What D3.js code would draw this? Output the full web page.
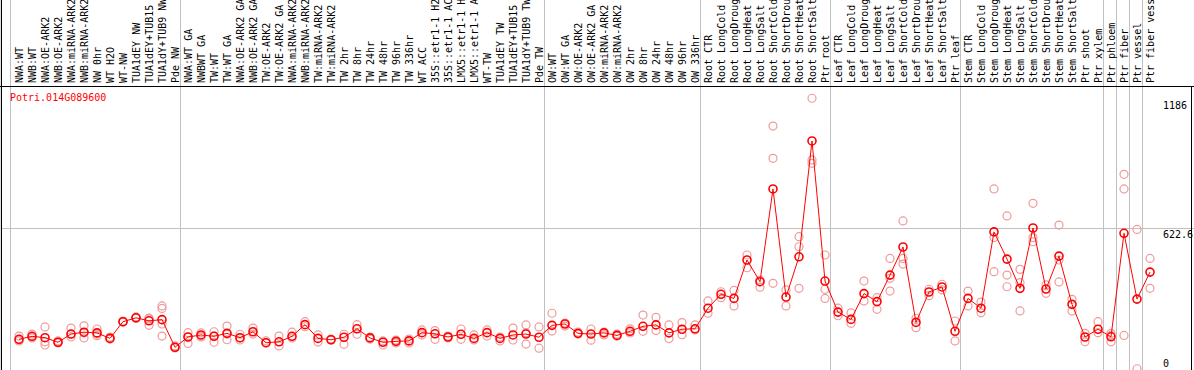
<!DOCTYPE html>
<html>
<head>
<meta charset="utf-8">
<script src="https://cdn.jsdelivr.net/npm/d3@7/dist/d3.min.js"></script>
<style>
  html, body { margin: 0; padding: 0; background: #fff; }
  svg { display: block; font-family: "DejaVu Sans Mono", monospace; font-size: 10px; }
</style>
</head>
<body>
<div id="chart"></div>
<script>
var geneName = "Potri.014G089600";

var categories = [
  "NWA:WT", "NWB:WT", "NWA:OE-ARK2", "NWB:OE-ARK2", "NWA:miRNA-ARK2", "NWB:miRNA-ARK2",
  "NW 0hr", "WT H2O", "WT-NW", "TUA1dEY NW", "TUA1dEY+TUB15", "TUA1dY+TUB9 NW", "Pde NW",
  "NWA:WT GA", "NWBWT GA", "TW:WT", "TW:WT GA", "NWA:OE-ARK2 GA", "NWB:OE-ARK2 GA",
  "TW:OE-ARK2", "TW:OE-ARK2 GA", "NWA:miRNA-ARK2", "NWB:miRNA-ARK2", "TW:miRNA-ARK2",
  "TW:miRNA-ARK2", "TW 2hr", "TW 8hr", "TW 24hr", "TW 48hr", "TW 96hr", "TW 336hr", "WT ACC",
  "35S::etr1-1 H2O", "35S::etr1-1 ACC", "LMX5::etr1-1 H2O", "LMX5::etr1-1 ACC", "WT-TW",
  "TUA1dEY TW", "TUA1dEY+TUB15", "TUA1dY+TUB9 TW", "Pde TW",
  "OW:WT", "OW:WT GA", "OW:OE-ARK2", "OW:OE-ARK2 GA", "OW:miRNA-ARK2", "OW:miRNA-ARK2",
  "OW 2hr", "OW 8hr", "OW 24hr", "OW 48hr", "OW 96hr", "OW 336hr",
  "Root CTR", "Root LongCold", "Root LongDrought", "Root LongHeat", "Root LongSalt",
  "Root ShortCold", "Root ShortDrought", "Root ShortHeat", "Root ShortSalt", "Ptr root",
  "Leaf CTR", "Leaf LongCold", "Leaf LongDrought", "Leaf LongHeat", "Leaf LongSalt",
  "Leaf ShortCold", "Leaf ShortDrought", "Leaf ShortHeat", "Leaf ShortSalt", "Ptr leaf",
  "Stem CTR", "Stem LongCold", "Stem LongDrought", "Stem LongHeat", "Stem LongSalt",
  "Stem ShortCold", "Stem ShortDrought", "Stem ShortHeat", "Stem ShortSalt", "Ptr shoot", "Ptr xylem",
  "Ptr phloem", "Ptr fiber", "Ptr vessel", "Ptr fiber vessel"
];

// index where each sample group begins (last entry = end)
var groupStarts = [0, 13, 41, 53, 63, 73, 84, 85, 86, 87, 88];

var meanValues = [
  130, 143, 137, 117, 153, 161, 158, 134, 207, 224, 211, 216, 95,
  140, 149, 143, 156, 137, 163, 115, 119, 143, 194, 134, 128, 139, 176, 136, 117, 121, 123,
  159, 154, 140, 152, 134, 159, 134, 149, 153, 139,
  191, 197, 156, 153, 158, 147, 165, 187, 193, 158, 174, 176,
  266, 327, 309, 477, 382, 788, 315, 491, 998, 385,
  249, 217, 330, 295, 411, 534, 204, 337, 359, 165,
  309, 266, 600, 481, 353, 617, 350, 494, 283, 140, 174,
  141, 594, 306, 424
];

var replicateValues = [
  [144, 127, 123], [153, 136, 140], [184, 119, 105], [118, 114, 123], [179, 140, 153],
  [189, 136, 158], [175, 146, 153], [136, 131, 140], [206, 210, 206], [223, 228, 223],
  [219, 191, 223], [276, 265, 197, 144], [96, 101, 92],
  [159, 112, 140], [158, 140, 144], [163, 117, 144], [188, 128, 153], [152, 127, 136],
  [179, 153], [114, 123], [144, 101], [161, 136], [207, 185], [149, 118], [131, 127],
  [152, 108], [194, 152], [140, 131], [105, 123], [127, 114], [131, 114], [171, 149],
  [168, 130], [144, 136], [175, 130], [149, 127], [171, 144], [140, 123], [179, 127],
  [193, 109, 159], [184, 91],
  [244, 166], [201, 188], [162, 153], [175, 126], [162, 149], [153, 144], [176, 158],
  [236, 165], [226, 169], [193, 133], [203, 150], [193, 171],
  [298, 244], [338, 312], [344, 276], [499, 443], [358, 389], [1063, 922, 375],
  [346, 276], [579, 535, 353], [1185, 915, 900], [499, 349, 309],
  [266, 233], [246, 200], [385, 298], [312, 261], [484, 397, 341], [648, 484, 459],
  [222, 181], [349, 321], [371, 346], [210, 123],
  [341, 276], [293, 246], [788, 575, 426], [670, 411, 360], [436, 378, 254],
  [725, 557, 575], [331, 368], [630, 477, 381], [305, 254], [156, 119], [207, 159],
  [156, 119, 147], [852, 788, 147], [611, 1], [484, 353]
];

var yTicks = [0, 622.6, 1186];

var width = 1194;
var height = 370;
var headerBottom = 86;

var svg = d3.select("#chart")
  .append("svg")
  .attr("width", width)
  .attr("height", height);

svg.append("rect")
  .attr("width", width)
  .attr("height", height)
  .attr("fill", "#fff");

var x = d3.scaleBand()
  .domain(d3.range(categories.length))
  .range([11, 11 + 13 * categories.length]);

var y = d3.scaleLinear()
  .domain([0, 1186])
  .range([369, 98]);

function px(i) { return x(i) + 8; }

// group separators
svg.selectAll("line.sep")
  .data(groupStarts)
  .enter()
  .append("line")
  .attr("class", "sep")
  .attr("x1", function (d) { return (d === 0 ? x(d) - 1 : x(d)) + 0.5; })
  .attr("x2", function (d) { return (d === 0 ? x(d) - 1 : x(d)) + 0.5; })
  .attr("y1", 0)
  .attr("y2", height)
  .attr("stroke", "#c0c0c0")
  .attr("stroke-width", 1);

// horizontal grid at the middle tick
svg.selectAll("line.hgrid")
  .data(yTicks.filter(function (d) { return d > 0 && d < 1186; }))
  .enter()
  .append("line")
  .attr("class", "hgrid")
  .attr("x1", 1)
  .attr("x2", width)
  .attr("y1", function (d) { return Math.round(y(d)) + 1.5; })
  .attr("y2", function (d) { return Math.round(y(d)) + 1.5; })
  .attr("stroke", "#c0c0c0")
  .attr("stroke-width", 1);

// frame
svg.append("line")
  .attr("x1", 0).attr("x2", width)
  .attr("y1", headerBottom + 0.5).attr("y2", headerBottom + 0.5)
  .attr("stroke", "#000");
svg.append("line")
  .attr("x1", 1.5).attr("x2", 1.5)
  .attr("y1", 0).attr("y2", height)
  .attr("stroke", "#000");
svg.append("line")
  .attr("x1", 1191.5).attr("x2", 1191.5)
  .attr("y1", headerBottom).attr("y2", height)
  .attr("stroke", "#000");

// sample labels, vertical
svg.selectAll("text.cat")
  .data(categories)
  .enter()
  .append("text")
  .attr("class", "cat")
  .attr("transform", function (d, i) {
    return "translate(" + (px(i) + 4) + "," + (headerBottom - 3) + ") rotate(-90)";
  })
  .attr("fill", "#000")
  .text(function (d) { return d; });

// y tick labels on the right
svg.selectAll("text.ytick")
  .data(yTicks)
  .enter()
  .append("text")
  .attr("class", "ytick")
  .attr("x", 1163)
  .attr("y", function (d) { return d === 0 ? y(d) - 2 : y(d) + 11; })
  .attr("fill", "#000")
  .text(function (d) { return d; });

// gene title
svg.append("text")
  .attr("x", 10)
  .attr("y", 101)
  .attr("fill", "#ff0000")
  .text(geneName);

// replicates
var reps = [];
replicateValues.forEach(function (arr, i) {
  arr.forEach(function (v) { reps.push({ i: i, v: v }); });
});

svg.selectAll("circle.rep")
  .data(reps)
  .enter()
  .append("circle")
  .attr("class", "rep")
  .attr("cx", function (d) { return px(d.i); })
  .attr("cy", function (d) { return y(d.v); })
  .attr("r", 4)
  .attr("fill", "none")
  .attr("stroke", "#f09a9a")
  .attr("stroke-width", 1.2);

// mean line
var line = d3.line()
  .x(function (d, i) { return px(i); })
  .y(function (d) { return y(d); });

svg.append("path")
  .datum(meanValues)
  .attr("d", line)
  .attr("fill", "none")
  .attr("stroke", "#ff0000")
  .attr("stroke-width", 1);

svg.selectAll("circle.mean")
  .data(meanValues)
  .enter()
  .append("circle")
  .attr("class", "mean")
  .attr("cx", function (d, i) { return px(i); })
  .attr("cy", function (d) { return y(d); })
  .attr("r", 4)
  .attr("fill", "none")
  .attr("stroke", "#ff0000")
  .attr("stroke-width", 1.6);
</script>
</body>
</html>
